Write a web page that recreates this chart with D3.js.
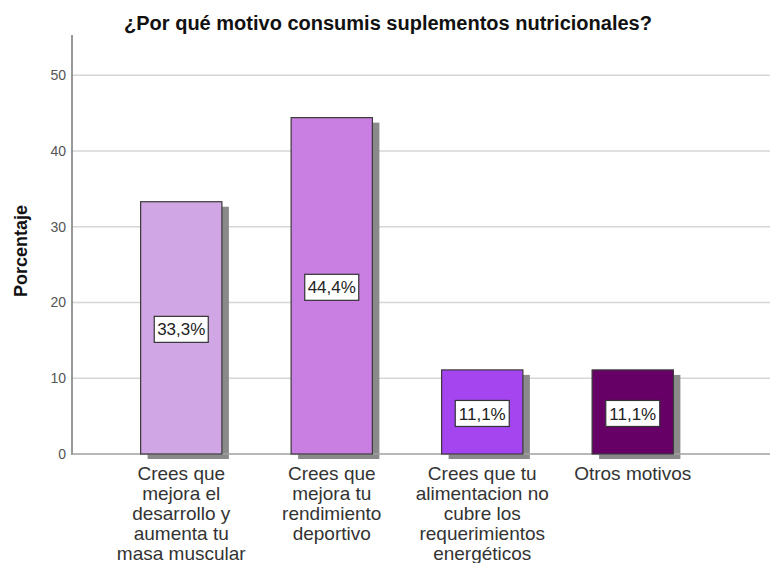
<!DOCTYPE html>
<html>
<head>
<meta charset="utf-8">
<script src="https://cdn.jsdelivr.net/npm/d3@7"></script>
<style>
  body { margin: 0; background: #fff; }
  svg { display: block; }
</style>
</head>
<body>
<svg id="chart" width="770" height="563"></svg>
<script>
const title = "¿Por qué motivo consumis suplementos nutricionales?";
const yLabel = "Porcentaje";
const categories = [
  ["Crees que", "mejora el", "desarrollo y", "aumenta tu", "masa muscular"],
  ["Crees que", "mejora tu", "rendimiento", "deportivo"],
  ["Crees que tu", "alimentacion no", "cubre los", "requerimientos", "energéticos"],
  ["Otros motivos"]
];
const values = [33.3, 44.4, 11.1, 11.1];
const valueLabels = ["33,3%", "44,4%", "11,1%", "11,1%"];
const colors = ["#d0a6e4", "#c97ee2", "#a545f0", "#660066"];
const yTicks = [0, 10, 20, 30, 40, 50];

const FONT = "Liberation Sans, Arial, sans-serif";
const svg = d3.select("#chart");
const axisX = 72, baseY = 454, topY = 35;

const x = d3.scaleBand()
  .domain(d3.range(values.length))
  .range([106, 708])
  .paddingInner(0.46)
  .paddingOuter(0.23);

const y = d3.scaleLinear().domain([0, 50]).range([baseY, 75.2]);

// gridlines
svg.append("g").selectAll("line")
  .data(yTicks.filter(d => d > 0))
  .join("line")
  .attr("x1", axisX).attr("x2", 770)
  .attr("y1", d => y(d)).attr("y2", d => y(d))
  .attr("stroke", "#d6d6d6").attr("stroke-width", 1.5);

// y axis
const yAxis = d3.axisLeft(y).tickValues(yTicks).tickSize(0).tickPadding(6);
const gy = svg.append("g").attr("transform", `translate(${axisX},0)`).call(yAxis);
gy.select(".domain").remove();
gy.selectAll("text")
  .attr("font-family", FONT)
  .attr("font-size", 14).attr("fill", "#555");
svg.append("line")
  .attr("x1", axisX).attr("x2", axisX)
  .attr("y1", topY).attr("y2", baseY + 1)
  .attr("stroke", "#777").attr("stroke-width", 1.5);

// shadows
svg.append("g").selectAll("rect")
  .data(values)
  .join("rect")
  .attr("x", (d, i) => x(i) + 7)
  .attr("y", d => y(d) + 5)
  .attr("width", x.bandwidth())
  .attr("height", d => baseY - y(d))
  .attr("fill", "#8a8a8a");

// baseline
svg.append("line")
  .attr("x1", axisX).attr("x2", 770)
  .attr("y1", baseY).attr("y2", baseY)
  .attr("stroke", "#a0a0a0").attr("stroke-width", 1.5);

// bars
svg.append("g").selectAll("rect")
  .data(values)
  .join("rect")
  .attr("x", (d, i) => x(i))
  .attr("y", d => y(d))
  .attr("width", x.bandwidth())
  .attr("height", d => baseY - y(d))
  .attr("fill", (d, i) => colors[i])
  .attr("stroke", "#3a3a3a").attr("stroke-width", 1.2);

// value labels
const lg = svg.append("g").selectAll("g")
  .data(values)
  .join("g")
  .attr("transform", (d, i) => `translate(${x(i) + x.bandwidth() / 2},${(y(d) + baseY) / 2 + 1.5})`);
lg.append("rect")
  .attr("x", -27).attr("y", -13).attr("width", 54).attr("height", 26)
  .attr("fill", "#fff").attr("stroke", "#333").attr("stroke-width", 1.2);
lg.append("text")
  .attr("text-anchor", "middle").attr("dy", "0.36em")
  .attr("font-family", FONT)
  .attr("font-size", 17).attr("fill", "#222")
  .text((d, i) => valueLabels[i]);

// category labels
const cg = svg.append("g").selectAll("text")
  .data(categories)
  .join("text")
  .attr("text-anchor", "middle")
  .attr("font-family", FONT)
  .attr("font-size", 19).attr("fill", "#333")
  .attr("transform", (d, i) => `translate(${x(i) + x.bandwidth() / 2},480)`);
cg.selectAll("tspan")
  .data(d => d)
  .join("tspan")
  .attr("x", 0)
  .attr("y", (d, j) => j * 20)
  .text(d => d);

// title
svg.append("text")
  .attr("x", 388).attr("y", 30)
  .attr("text-anchor", "middle")
  .attr("font-family", FONT)
  .attr("font-weight", "bold").attr("font-size", 20).attr("fill", "#111")
  .text(title);

// y label
svg.append("text")
  .attr("transform", "translate(27,251) rotate(-90)")
  .attr("text-anchor", "middle")
  .attr("font-family", FONT)
  .attr("font-weight", "bold").attr("font-size", 18).attr("fill", "#111")
  .text(yLabel);
</script>
</body>
</html>
